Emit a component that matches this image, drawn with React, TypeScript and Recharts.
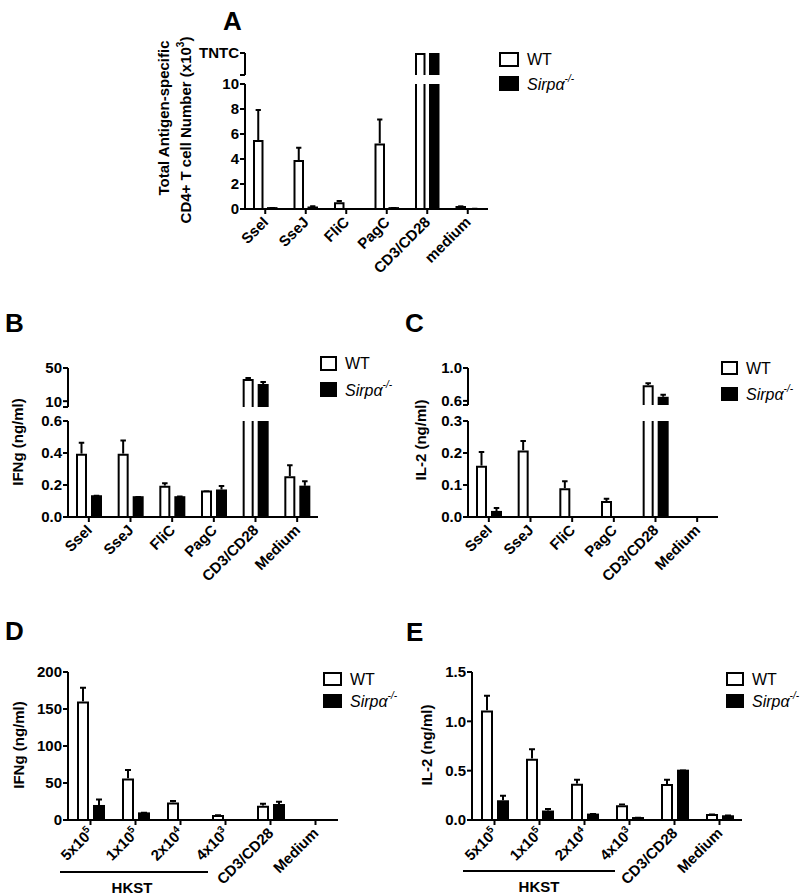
import { Bar, BarChart, XAxis, YAxis } from "recharts"

const FONT = '"Liberation Sans", Arial, Helvetica, sans-serif'

// Panel A - total antigen-specific CD4+ T cells (x10^3); TNTC = too numerous to count
const TNTC = 100
const antigenCats = ["SseI", "SseJ", "FliC", "PagC", "CD3/CD28", "medium"]
const aWT = [5.52, 3.92, 0.55, 5.25, TNTC, 0.25]
const aWTErr = [2.48, 1.06, 0.17, 2.0, 0, 0.06]
const aKO = [0.15, 0.2, 0.03, 0.15, TNTC, 0.08]
const aKOErr = [0.02, 0.1, 0, 0.02, 0, 0.02]

// Panel B - IFNg (ng/ml)
const cytoCats = ["SseI", "SseJ", "FliC", "PagC", "CD3/CD28", "Medium"]
const bWT = [0.395, 0.395, 0.195, 0.165, 36.7, 0.255]
const bWTErr = [0.075, 0.09, 0.022, 0.003, 2.5, 0.075]
const bKO = [0.136, 0.13, 0.13, 0.172, 30.7, 0.196]
const bKOErr = [0.003, 0.002, 0.005, 0.028, 3.6, 0.033]

// Panel C - IL-2 (ng/ml)
const cWT = [0.16, 0.208, 0.09, 0.05, 0.79, 0]
const cWTErr = [0.046, 0.033, 0.025, 0.01, 0.037, 0]
const cKO = [0.019, 0, 0, 0, 0.65, 0]
const cKOErr = [0.012, 0, 0, 0, 0.037, 0]

// Panels D/E - HKST doses
const doseCats = ["5x10^5", "1x10^5", "2x10^4", "4x10^3", "CD3/CD28", "Medium"]
const dWT = [160, 56, 23.8, 6.7, 19.3, 0.5]
const dWTErr = [20, 13, 3.2, 1, 4, 0.2]
const dKO = [20.3, 10.3, 1, 0.5, 21.6, 0.8]
const dKOErr = [8.7, 1, 0.2, 0.1, 4.4, 0.2]

const eWT = [1.11, 0.622, 0.367, 0.15, 0.364, 0.06]
const eWTErr = [0.16, 0.106, 0.051, 0.017, 0.054, 0.006]
const eKO = [0.2, 0.096, 0.065, 0.03, 0.51, 0.048]
const eKOErr = [0.055, 0.026, 0.007, 0.003, 0.003, 0.007]

type Row = { cat: string; wt: number; wtErr: number; ko: number; koErr: number }

function rows(cats: string[], wt: number[], wtErr: number[], ko: number[], koErr: number[]): Row[] {
  return cats.map((cat, i) => ({ cat, wt: wt[i], wtErr: wtErr[i], ko: ko[i], koErr: koErr[i] }))
}

const aRows = rows(antigenCats, aWT, aWTErr, aKO, aKOErr)
const bRows = rows(cytoCats, bWT, bWTErr, bKO, bKOErr)
const cRows = rows(cytoCats, cWT, cWTErr, cKO, cKOErr)
const dRows = rows(doseCats, dWT, dWTErr, dKO, dKOErr)
const eRows = rows(doseCats, eWT, eWTErr, eKO, eKOErr)

const MT = 10
const AX = { stroke: "#000", strokeWidth: 2 }
const TICK = { fill: "#000", fontSize: 15, fontWeight: 700, fontFamily: FONT }

// open-bottom bar with a one-sided (upper) error whisker, clipped to its axis segment
function BarMark(props: any) {
  const { x, y, width, height, filled, err, plotTop, plotBot, pxPerUnit } = props
  if (x == null || y == null || width == null) return null
  const y1 = Math.min(y, y + height)
  const y2 = Math.max(y, y + height)
  const top = Math.max(y1, plotTop)
  const bot = Math.min(y2, plotBot)
  if (bot - top <= 0 && y1 > plotBot - 0.01) return null
  const openTop = y1 < plotTop - 0.5
  const cx = x + width / 2
  let whisker = null
  if (!openTop && err > 0) {
    const wy = Math.max(y1 - err * pxPerUnit, plotTop)
    const cw = width * 0.5
    whisker = (
      <path
        d={`M${cx},${y1}V${wy + 1}M${cx - cw / 2},${wy + 1}H${cx + cw / 2}`}
        stroke="#000"
        strokeWidth={2}
        fill="none"
      />
    )
  }
  return (
    <g>
      {whisker}
      {filled ? (
        <rect x={x} y={top} width={width} height={Math.max(bot - top, 0)} fill="#000" />
      ) : (
        <>
          <rect x={x + 1} y={top} width={width - 2} height={Math.max(bot - top, 0)} fill="#fff" />
          <path
            d={
              openTop
                ? `M${x + 1},${bot}V${top}M${x + width - 1},${top}V${bot}`
                : `M${x + 1},${bot}V${top + 1}H${x + width - 1}V${bot}`
            }
            stroke="#000"
            strokeWidth={2}
            fill="none"
          />
        </>
      )}
    </g>
  )
}

function SlantTick(props: any) {
  const { x, y, payload } = props
  const [base, exp] = String(payload.value).split("^")
  return (
    <g transform={`translate(${x + 4},${y + 7})`}>
      <text transform="rotate(-45)" textAnchor="end" {...TICK}>
        {base}
        {exp ? (
          <tspan dy={-6} fontSize={10}>
            {exp}
          </tspan>
        ) : null}
      </text>
    </g>
  )
}

type SegProps = {
  left: number
  top: number
  axisW: number
  plotW: number
  plotH: number
  data: Row[]
  domain: [number, number]
  ticks: number[]
  fmt: (v: number) => string
  showX?: boolean
  barSize: number
  barGap: number
}

function Seg({ left, top, axisW, plotW, plotH, data, domain, ticks, fmt, showX, barSize, barGap }: SegProps) {
  const pxPerUnit = plotH / (domain[1] - domain[0])
  const xH = showX ? 80 : 0
  const mb = showX ? 0 : 4
  const mk = (filled: boolean, errKey: "wtErr" | "koErr") => (p: any) => (
    <BarMark
      {...p}
      filled={filled}
      err={p.payload ? p.payload[errKey] : 0}
      plotTop={MT}
      plotBot={MT + plotH}
      pxPerUnit={pxPerUnit}
    />
  )
  return (
    <div style={{ position: "absolute", left: left - axisW, top: top - MT }}>
      <BarChart
        width={axisW + plotW + 12}
        height={MT + plotH + xH + mb}
        data={data}
        margin={{ top: MT, right: 12, bottom: mb, left: 0 }}
        barSize={barSize}
        barGap={barGap}
      >
        <XAxis
          dataKey="cat"
          hide={!showX}
          height={xH || 1}
          interval={0}
          tickSize={5}
          tick={(p: any) => <SlantTick {...p} />}
          axisLine={AX}
          tickLine={AX}
        />
        <YAxis
          type="number"
          width={axisW}
          domain={domain}
          ticks={ticks}
          allowDataOverflow
          interval={0}
          tickFormatter={fmt}
          tickSize={5}
          tickMargin={1}
          tick={TICK}
          axisLine={AX}
          tickLine={AX}
        />
        <Bar dataKey="wt" isAnimationActive={false} shape={mk(false, "wtErr")} />
        <Bar dataKey="ko" isAnimationActive={false} shape={mk(true, "koErr")} />
      </BarChart>
    </div>
  )
}

const one = (v: number) => v.toFixed(1)

function LegendBox({ x, y1, y2, w, h, tx }: { x: number; y1: number; y2: number; w: number; h: number; tx: number }) {
  return (
    <g fontFamily={FONT} fontSize={16} fill="#000">
      <rect x={x + 1} y={y1 + 1} width={w - 2} height={h - 2} fill="#fff" stroke="#000" strokeWidth={2} />
      <rect x={x} y={y2} width={w} height={h} fill="#000" />
      <text x={tx} y={y1 + h / 2} dominantBaseline="central">
        WT
      </text>
      <text x={tx} y={y2 + h / 2} dominantBaseline="central">
        <tspan fontStyle="italic">Sirpα</tspan>
        <tspan dy={-6} fontSize={10} fontStyle="italic">
          -/-
        </tspan>
      </text>
    </g>
  )
}

function VLabel({ x, y, children }: { x: number; y: number; children: any }) {
  return (
    <text
      transform={`translate(${x},${y}) rotate(-90)`}
      textAnchor="middle"
      dominantBaseline="central"
      fontFamily={FONT}
      fontSize={15}
      fontWeight={700}
      fill="#000"
    >
      {children}
    </text>
  )
}

function Letter({ x, y, t }: { x: number; y: number; t: string }) {
  return (
    <text x={x} y={y} fontFamily={FONT} fontSize={26} fontWeight={700} fill="#000">
      {t}
    </text>
  )
}

export default function App() {
  return (
    <div style={{ position: "absolute", left: 0, top: 0, width: 800, height: 896, background: "#fff" }}>
      {/* A */}
      <Seg left={245} top={53} axisW={95} plotW={243} plotH={22} data={aRows} domain={[11, TNTC]}
        ticks={[11, TNTC]} fmt={(v) => (v === TNTC ? "TNTC" : "")} barSize={10.5} barGap={3.5} />
      <Seg left={245} top={84} axisW={95} plotW={243} plotH={125} data={aRows} domain={[0, 10]}
        ticks={[0, 2, 4, 6, 8, 10]} fmt={(v) => String(v)} showX barSize={10.5} barGap={3.5} />

      {/* B */}
      <Seg left={68} top={368} axisW={68} plotW={250} plotH={39} data={bRows} domain={[3, 50]}
        ticks={[3, 10, 50]} fmt={(v) => (v === 3 ? "" : String(v))} barSize={11} barGap={4} />
      <Seg left={68} top={421} axisW={68} plotW={250} plotH={96} data={bRows} domain={[0, 0.6]}
        ticks={[0, 0.2, 0.4, 0.6]} fmt={one} showX barSize={11} barGap={4} />

      {/* C */}
      <Seg left={468} top={368} axisW={68} plotW={250} plotH={37} data={cRows} domain={[0.55, 1.0]}
        ticks={[0.55, 0.6, 1.0]} fmt={(v) => (v === 0.55 ? "" : one(v))} barSize={11} barGap={4} />
      <Seg left={468} top={421} axisW={68} plotW={250} plotH={96} data={cRows} domain={[0, 0.3]}
        ticks={[0, 0.1, 0.2, 0.3]} fmt={one} showX barSize={11} barGap={4} />

      {/* D */}
      <Seg left={68} top={672} axisW={68} plotW={270} plotH={148} data={dRows} domain={[0, 200]}
        ticks={[0, 50, 100, 150, 200]} fmt={(v) => String(v)} showX barSize={12} barGap={4} />

      {/* E */}
      <Seg left={472} top={672} axisW={72} plotW={270} plotH={148} data={eRows} domain={[0, 1.5]}
        ticks={[0, 0.5, 1.0, 1.5]} fmt={one} showX barSize={12} barGap={4} />

      <svg width={800} height={896} style={{ position: "absolute", left: 0, top: 0, pointerEvents: "none" }}>
        <Letter x={223} y={30} t="A" />
        <Letter x={5} y={332} t="B" />
        <Letter x={405} y={332} t="C" />
        <Letter x={5} y={640} t="D" />
        <Letter x={406} y={641} t="E" />

        <VLabel x={163} y={118}>Total Antigen-specific</VLabel>
        <VLabel x={185} y={130}>
          CD4+ T cell Number (x10
          <tspan dy={-5} fontSize={10}>3</tspan>
          <tspan dy={5}>)</tspan>
        </VLabel>
        <VLabel x={17} y={442}>IFNg (ng/ml)</VLabel>
        <VLabel x={420} y={440}>IL-2 (ng/ml)</VLabel>
        <VLabel x={18} y={745}>IFNg (ng/ml)</VLabel>
        <VLabel x={426} y={745}>IL-2 (ng/ml)</VLabel>

        <LegendBox x={499} y1={52} y2={76} w={20} h={15} tx={527} />
        <LegendBox x={320} y1={356} y2={382} w={17} h={15} tx={345} />
        <LegendBox x={721} y1={361} y2={387} w={17} h={14} tx={746} />
        <LegendBox x={323} y1={672} y2={694} w={19} h={14} tx={350} />
        <LegendBox x={726} y1={672} y2={694} w={18} h={14} tx={752} />

        <g fontFamily={FONT} fontSize={15} fontWeight={700} fill="#000">
          <line x1={60} x2={208} y1={872} y2={872} stroke="#000" strokeWidth={2} />
          <text x={132} y={887} textAnchor="middle" dominantBaseline="central">HKST</text>
          <line x1={463} x2={615} y1={871} y2={871} stroke="#000" strokeWidth={2} />
          <text x={539} y={886} textAnchor="middle" dominantBaseline="central">HKST</text>
        </g>
      </svg>
    </div>
  )
}
